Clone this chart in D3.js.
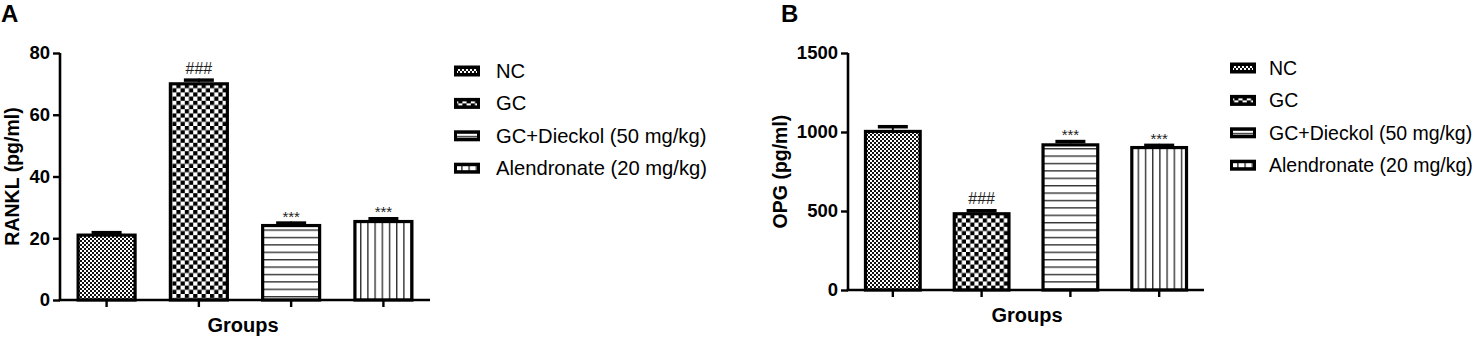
<!DOCTYPE html>
<html>
<head>
<meta charset="utf-8">
<script src="https://cdn.jsdelivr.net/npm/d3@7"></script>
<style>
  body { margin: 0; background: #fff; }
  svg { display: block; font-family: "Liberation Sans", Arial, sans-serif; }
</style>
</head>
<body>
<div id="chart"></div>
<script>
// group names and patterns
const groups = ["NC", "GC", "GC+Dieckol (50 mg/kg)", "Alendronate (20 mg/kg)"];
const patternIds = ["fineCheck", "coarseCheck", "hLines", "vLines"];

// panel A: RANKL
const ranklMean = [21.5, 70.5, 24.6, 25.9];
const ranklErr = [0.8, 1.2, 0.8, 0.9];
const ranklMarks = ["", "###", "***", "***"];
const ranklTicks = [0, 20, 40, 60, 80];

// panel B: OPG
const opgMean = [1013, 492, 928, 911];
const opgErr = [30, 19, 21, 14];
const opgMarks = ["", "###", "***", "***"];
const opgTicks = [0, 500, 1000, 1500];

const svg = d3.select("#chart").append("svg")
    .attr("width", 1477)
    .attr("height", 338);

// patterns
const defs = svg.append("defs");

const fine = defs.append("pattern").attr("id", "fineCheck")
    .attr("patternUnits", "userSpaceOnUse").attr("width", 4).attr("height", 4);
fine.append("rect").attr("width", 4).attr("height", 4).attr("fill", "#fff");
fine.append("rect").attr("width", 2).attr("height", 2).attr("fill", "#111");
fine.append("rect").attr("x", 2).attr("y", 2).attr("width", 2).attr("height", 2).attr("fill", "#111");

const coarse = defs.append("pattern").attr("id", "coarseCheck")
    .attr("patternUnits", "userSpaceOnUse").attr("width", 8.4).attr("height", 8.4);
coarse.append("rect").attr("width", 8.4).attr("height", 8.4).attr("fill", "#fff");
coarse.append("rect").attr("width", 4.2).attr("height", 4.2).attr("fill", "#000");
coarse.append("rect").attr("x", 4.2).attr("y", 4.2).attr("width", 4.2).attr("height", 4.2).attr("fill", "#000");

const hl = defs.append("pattern").attr("id", "hLines")
    .attr("patternUnits", "userSpaceOnUse").attr("width", 10).attr("height", 7.4);
hl.append("rect").attr("width", 10).attr("height", 7.4).attr("fill", "#fff");
hl.append("rect").attr("y", 0).attr("width", 10).attr("height", 1.4).attr("fill", "#333");

const vl = defs.append("pattern").attr("id", "vLines")
    .attr("patternUnits", "userSpaceOnUse").attr("width", 7.2).attr("height", 10);
vl.append("rect").attr("width", 7.2).attr("height", 10).attr("fill", "#fff");
vl.append("rect").attr("x", 0).attr("width", 1.4).attr("height", 10).attr("fill", "#333");

function drawPanel(cfg) {
    const g = svg.append("g");

    const x = d3.scaleBand()
        .domain(groups)
        .range([cfg.left, cfg.right])
        .paddingInner(0.35)
        .paddingOuter(0.18);

    const y = d3.scaleLinear()
        .domain([0, cfg.ticks[cfg.ticks.length - 1]])
        .range([cfg.bottom, cfg.top]);

    // panel letter
    g.append("text")
        .attr("x", cfg.letterX)
        .attr("y", 22)
        .attr("font-size", "24px")
        .attr("font-weight", "bold")
        .text(cfg.letter);

    const rows = groups.map((d, i) => ({ name: d, mean: cfg.mean[i], err: cfg.err[i], mark: cfg.marks[i], pat: patternIds[i] }));

    // bars
    g.selectAll(".bar").data(rows).enter()
        .append("rect")
        .attr("class", "bar")
        .attr("x", d => x(d.name) + 1.5)
        .attr("y", d => y(d.mean) + 1.5)
        .attr("width", x.bandwidth() - 3)
        .attr("height", d => y(0) - y(d.mean) - 1.5)
        .attr("fill", d => `url(#${d.pat})`)
        .attr("stroke", "#000")
        .attr("stroke-width", 3.2);

    // error bars
    g.selectAll(".err").data(rows).enter()
        .append("line")
        .attr("x1", d => x(d.name) + x.bandwidth() / 2)
        .attr("x2", d => x(d.name) + x.bandwidth() / 2)
        .attr("y1", d => y(d.mean))
        .attr("y2", d => y(d.mean + d.err))
        .attr("stroke", "#000")
        .attr("stroke-width", 2);

    g.selectAll(".cap").data(rows).enter()
        .append("line")
        .attr("x1", d => x(d.name) + x.bandwidth() / 2 - 15)
        .attr("x2", d => x(d.name) + x.bandwidth() / 2 + 15)
        .attr("y1", d => y(d.mean + d.err) + 1.5)
        .attr("y2", d => y(d.mean + d.err) + 1.5)
        .attr("stroke", "#000")
        .attr("stroke-width", 3.5);

    // significance marks
    g.selectAll(".mark").data(rows).enter()
        .append("text")
        .attr("x", d => x(d.name) + x.bandwidth() / 2)
        .attr("y", d => y(d.mean + d.err) - (d.mark === "###" ? 5 : 0))
        .attr("text-anchor", "middle")
        .attr("font-size", d => d.mark === "###" ? "16px" : "15px")
        .attr("fill", "#222")
        .text(d => d.mark);

    // axes
    const yAxis = g.append("g")
        .attr("transform", `translate(${cfg.left},0)`)
        .call(d3.axisLeft(y).tickValues(cfg.ticks).tickFormat(d3.format("d")).tickSize(7).tickPadding(3));
    const xAxis = g.append("g")
        .attr("transform", `translate(0,${cfg.bottom})`)
        .call(d3.axisBottom(x).tickSize(7).tickFormat(""));

    [yAxis, xAxis].forEach(a => {
        a.select(".domain").attr("stroke", "#000").attr("stroke-width", 2.6);
        a.selectAll(".tick line").attr("stroke", "#000").attr("stroke-width", 2.4);
    });
    xAxis.select(".domain").attr("d", `M${cfg.left - 1.3},0H${cfg.right}`);
    yAxis.select(".domain").attr("d", `M0,${cfg.bottom}V${cfg.top}`);
    yAxis.selectAll(".tick text")
        .attr("font-size", "18.5px")
        .attr("font-weight", "bold")
        .attr("font-family", "'Liberation Sans', Arial, sans-serif")
        .attr("fill", "#000");

    // axis titles
    g.append("text")
        .attr("transform", `translate(${cfg.yLabelX},${(cfg.top + cfg.bottom) / 2}) rotate(-90)`)
        .attr("text-anchor", "middle")
        .attr("font-size", "19.5px")
        .attr("font-weight", "bold")
        .text(cfg.yLabel);

    g.append("text")
        .attr("x", (cfg.left + cfg.right) / 2 + cfg.groupsShift)
        .attr("y", cfg.groupsY)
        .attr("text-anchor", "middle")
        .attr("font-size", "20px")
        .attr("font-weight", "bold")
        .text("Groups");

    // legend
    const legend = g.selectAll(".legend").data(rows).enter()
        .append("g")
        .attr("transform", (d, i) => `translate(${cfg.legendX},${cfg.legendY + i * 32.4})`);
    legend.append("rect")
        .attr("x", 0).attr("y", -5.5)
        .attr("width", 26).attr("height", 11)
        .attr("fill", "#000");
    legend.append("rect")
        .attr("x", 3).attr("y", -2)
        .attr("width", 20).attr("height", 4)
        .attr("fill", d => `url(#${d.pat})`);
    legend.append("text")
        .attr("x", cfg.legendTextDx)
        .attr("y", 7)
        .attr("font-size", cfg.legendFont)
        .text(d => d.name);
}

drawPanel({
    letter: "A", letterX: 1,
    left: 60, right: 430, top: 53, bottom: 300,
    mean: ranklMean, err: ranklErr, marks: ranklMarks, ticks: ranklTicks,
    yLabel: "RANKL (pg/ml)", yLabelX: 19,
    groupsY: 332, groupsShift: -2,
    legendX: 454, legendY: 71, legendTextDx: 42, legendFont: "20.2px"
});

drawPanel({
    letter: "B", letterX: 781,
    left: 848, right: 1204, top: 53, bottom: 290,
    mean: opgMean, err: opgErr, marks: opgMarks, ticks: opgTicks,
    yLabel: "OPG (pg/ml)", yLabelX: 787,
    groupsY: 322, groupsShift: 1,
    legendX: 1230, legendY: 68, legendTextDx: 39, legendFont: "19.5px"
});
</script>
</body>
</html>
